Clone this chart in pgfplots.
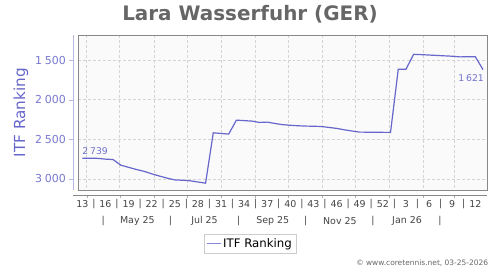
\documentclass[border=0pt]{standalone}
\usepackage{pgfplots}
\pgfplotsset{compat=1.18}
\usepackage{fontspec}
\setmainfont{DejaVu Sans}
\definecolor{lineblue}{HTML}{6666CC}
\definecolor{labc}{HTML}{7070CC}
\definecolor{ytc}{HTML}{7878D0}
\definecolor{yaxc}{HTML}{B8B8E4}
\definecolor{titlegray}{HTML}{666666}
\definecolor{framec}{HTML}{888888}
\definecolor{bgc}{HTML}{FAFAFA}
\definecolor{gridc}{HTML}{D4D4D4}
\definecolor{xtc}{HTML}{444444}
\definecolor{legframe}{HTML}{CCCCCC}
\definecolor{legline}{HTML}{8888DD}
\pgfplotstableread{
d r
-4 2739
3 2739
10 2740
17 2750
24 2755
31 2826
38 2853
45 2880
52 2903
59 2935
66 2963
73 2989
80 3012
87 3016
94 3023
101 3038
108 3053
115 2418
122 2426
129 2434
136 2258
143 2264
150 2270
157 2287
164 2283
171 2300
178 2315
185 2323
192 2329
199 2333
206 2335
213 2338
220 2350
227 2362
234 2380
241 2395
248 2409
255 2410
262 2411
269 2412
276 2413
283 1617
290 1617
297 1428
304 1432
311 1437
318 1442
325 1447
332 1452
339 1460
346 1459
353 1458
360 1621
}\ranktable
\begin{document}
\begin{tikzpicture}
\path[use as bounding box] (0bp,0bp) rectangle (500bp,270bp);
\node[anchor=base, font=\bfseries\fontsize{20}{24}\selectfont, text=titlegray, inner sep=0pt] at (250bp,249.3bp) {Lara Wasserfuhr (GER)};
\node[rotate=90, font=\fontsize{15.3}{18}\selectfont, text=lineblue, inner sep=0pt] at (21bp,157.2bp) {ITF Ranking};
\node[anchor=base east, font=\fontsize{7.5}{9}\selectfont, text=titlegray, inner sep=0pt] at (488.3bp,5bp) {© www.coretennis.net, 03-25-2026};
% main plot area
\begin{axis}[
  at={(78.3bp,79.7bp)}, anchor=south west, scale only axis,
  width=409bp, height=155bp,
  xmin=-7.6, xmax=363.9, ymin=1188, ymax=3143, y dir=reverse,
  axis background/.style={fill=bgc},
  axis line style={framec, line width=0.8pt},
  xtick={0,30,61,91,122,153,183,214,244,275,306,334},
  ytick={1500,2000,2500,3000},
  xticklabels={}, yticklabels={},
  major tick length=0pt,
  grid=major, grid style={densely dashed, gridc, line width=0.5pt},
  clip=false,
  legend style={at={(0.42,-0.346)}, anchor=center, draw=legframe,
    font=\fontsize{11.8}{13}\selectfont, inner xsep=2bp, inner ysep=2.5bp,
    cells={anchor=west}},
  legend image code/.code={\draw[legline, line width=0.9pt] (0bp,0bp) -- (14bp,0bp);},
]
\addplot[color=lineblue, line width=1.2pt] table[x=d, y=r] {\ranktable};
\addlegendentry{ITF Ranking}
\node[anchor=south west, font=\fontsize{9.3}{11}\selectfont, text=labc, inner sep=0pt, yshift=3.5bp] at (axis cs:-4,2739) {2\hspace{0.2em}739};
\node[anchor=north east, font=\fontsize{9.3}{11}\selectfont, text=labc, inner sep=0pt, yshift=-5bp, xshift=1bp] at (axis cs:360,1621) {1\hspace{0.2em}621};
\end{axis}
% bottom x axis
\begin{axis}[
  at={(73.3bp,75bp)}, anchor=south west, scale only axis,
  width=414bp, height=10bp,
  xmin=-12.2, xmax=363.9, ymin=0, ymax=1,
  axis y line=none, axis x line=bottom,
  x axis line style={-, framec, line width=0.8pt},
  xtick={-4,6.5,17,27.5,38,48.5,59,69.5,80,90.5,101,111.5,122,132.5,143,153.5,164,174.5,185,195.5,206,216.5,227,237.5,248,258.5,269,279.5,290,300.5,311,321.5,332,342.5,353},
  xticklabels={13,|,16,|,19,|,22,|,25,|,28,|,31,|,34,|,37,|,40,|,43,|,46,|,49,|,52,|,3,|,6,|,9,|,12},
  major tick length=0pt,
  minor xtick={0,30,61,91,122,153,183,214,244,275,306,334},
  minor tick length=3bp, tick align=outside,
  minor tick style={framec!70},
  xticklabel style={anchor=center, yshift=-9.3bp, font=\fontsize{9.5}{11}\selectfont, text=xtc},
  extra x ticks={15,46,76,107,138,169,199,230,260,291,321},
  extra x tick labels={|,May 25,|,Jul 25,|,Sep 25,|,Nov 25,|,Jan 26,|},
  extra x tick style={xticklabel style={yshift=-16.7bp}, major tick length=0pt},
]
\addplot[draw=none] coordinates {(0,0)};
\end{axis}
% y axis
\begin{axis}[
  at={(73.3bp,79.7bp)}, anchor=south west, scale only axis,
  width=5bp, height=155bp,
  xmin=0, xmax=1, ymin=1188, ymax=3143, y dir=reverse,
  axis x line=none, axis y line=left,
  y axis line style={-, yaxc, line width=0.8pt},
  ytick={1500,2000,2500,3000},
  major tick length=4bp, tick align=outside,
  tick style={yaxc},
  yticklabel style={font=\fontsize{11}{13}\selectfont, text=ytc},
  /pgf/number format/.cd, 1000 sep={\hspace{0.25em}}, assume math mode=true,
]
\addplot[draw=none] coordinates {(0,2000)};
\end{axis}
\end{tikzpicture}
\end{document}
